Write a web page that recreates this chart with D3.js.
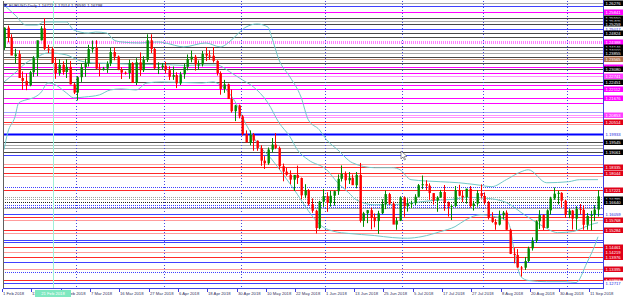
<!DOCTYPE html>
<html>
<head>
<meta charset="utf-8">
<script src="https://cdn.jsdelivr.net/npm/d3@7"></script>
<style>
  body { margin: 0; background: #fff; }
  text { font-family: "Liberation Sans", sans-serif; }
</style>
</head>
<body>
<div id="chart"></div>
<script>
// EURUSD daily candles: date, open, high, low, close (broker shows two short Sunday bars in March)
const candles = [
["2018-02-01",1.2413,1.2510,1.2400,1.2508],["2018-02-02",1.2508,1.2518,1.2437,1.2461],
["2018-02-05",1.2460,1.2476,1.2375,1.2373],["2018-02-06",1.2370,1.2406,1.2335,1.2379],
["2018-02-07",1.2380,1.2398,1.2266,1.2264],["2018-02-08",1.2264,1.2296,1.2206,1.2250],
["2018-02-09",1.2250,1.2286,1.2205,1.2228],["2018-02-12",1.2228,1.2299,1.2224,1.2292],
["2018-02-13",1.2292,1.2370,1.2270,1.2360],["2018-02-14",1.2360,1.2445,1.2273,1.2447],
["2018-02-15",1.2447,1.2516,1.2446,1.2505],["2018-02-16",1.2505,1.2555,1.2400,1.2406],
["2018-02-19",1.2406,1.2425,1.2385,1.2405],["2018-02-20",1.2405,1.2415,1.2336,1.2337],
["2018-02-21",1.2337,1.2364,1.2260,1.2287],["2018-02-22",1.2287,1.2355,1.2275,1.2328],
["2018-02-23",1.2328,1.2345,1.2280,1.2293],["2018-02-26",1.2293,1.2355,1.2264,1.2318],
["2018-02-27",1.2318,1.2347,1.2233,1.2233],["2018-02-28",1.2233,1.2240,1.2186,1.2193],
["2018-03-01",1.2193,1.2273,1.2155,1.2268],["2018-03-02",1.2268,1.2336,1.2245,1.2317],
["2018-03-05",1.2317,1.2358,1.2270,1.2337],["2018-03-06",1.2337,1.2425,1.2320,1.2404],
["2018-03-07",1.2404,1.2446,1.2387,1.2411],["2018-03-08",1.2411,1.2447,1.2307,1.2310],
["2018-03-09",1.2310,1.2335,1.2272,1.2307],["2018-03-11",1.2307,1.2318,1.2300,1.2310],
["2018-03-12",1.2310,1.2345,1.2289,1.2334],
["2018-03-13",1.2334,1.2412,1.2322,1.2390],["2018-03-14",1.2390,1.2413,1.2350,1.2368],
["2018-03-15",1.2368,1.2373,1.2302,1.2305],["2018-03-16",1.2305,1.2317,1.2259,1.2290],
["2018-03-18",1.2290,1.2296,1.2281,1.2288],
["2018-03-19",1.2288,1.2353,1.2260,1.2337],["2018-03-20",1.2337,1.2341,1.2240,1.2240],
["2018-03-21",1.2240,1.2360,1.2230,1.2340],["2018-03-22",1.2340,1.2388,1.2274,1.2302],
["2018-03-23",1.2302,1.2370,1.2293,1.2352],["2018-03-26",1.2352,1.2476,1.2342,1.2447],
["2018-03-27",1.2447,1.2476,1.2385,1.2405],["2018-03-28",1.2405,1.2410,1.2307,1.2311],
["2018-03-29",1.2311,1.2340,1.2283,1.2317],["2018-03-30",1.2317,1.2337,1.2306,1.2324],
["2018-04-02",1.2324,1.2343,1.2286,1.2302],["2018-04-03",1.2302,1.2321,1.2254,1.2270],
["2018-04-04",1.2270,1.2320,1.2255,1.2278],["2018-04-05",1.2278,1.2292,1.2215,1.2238],
["2018-04-06",1.2238,1.2294,1.2230,1.2282],["2018-04-09",1.2282,1.2334,1.2260,1.2318],
["2018-04-10",1.2318,1.2378,1.2301,1.2356],["2018-04-11",1.2356,1.2397,1.2340,1.2367],
["2018-04-12",1.2367,1.2376,1.2300,1.2330],["2018-04-13",1.2330,1.2349,1.2305,1.2330],
["2018-04-16",1.2330,1.2395,1.2320,1.2381],["2018-04-17",1.2381,1.2414,1.2346,1.2373],
["2018-04-18",1.2373,1.2398,1.2352,1.2372],["2018-04-19",1.2372,1.2414,1.2339,1.2347],
["2018-04-20",1.2347,1.2350,1.2276,1.2288],["2018-04-23",1.2288,1.2296,1.2183,1.2211],
["2018-04-24",1.2211,1.2255,1.2192,1.2233],["2018-04-25",1.2233,1.2237,1.2164,1.2162],
["2018-04-26",1.2162,1.2208,1.2096,1.2103],["2018-04-27",1.2103,1.2134,1.2055,1.2131],
["2018-04-30",1.2131,1.2135,1.2068,1.2078],
["2018-05-01",1.2078,1.2085,1.1985,1.1992],["2018-05-02",1.1992,1.2010,1.1954,1.1951],
["2018-05-03",1.1951,1.2010,1.1938,1.1989],["2018-05-04",1.1989,1.1997,1.1911,1.1960],
["2018-05-07",1.1960,1.1961,1.1911,1.1924],["2018-05-08",1.1924,1.1938,1.1838,1.1863],
["2018-05-09",1.1863,1.1885,1.1823,1.1850],["2018-05-10",1.1850,1.1927,1.1843,1.1917],
["2018-05-11",1.1917,1.1973,1.1904,1.1941],["2018-05-14",1.1941,1.1997,1.1919,1.1925],
["2018-05-15",1.1925,1.1932,1.1821,1.1836],["2018-05-16",1.1836,1.1849,1.1763,1.1810],
["2018-05-17",1.1810,1.1829,1.1790,1.1795],["2018-05-18",1.1795,1.1816,1.1749,1.1771],
["2018-05-21",1.1771,1.1793,1.1716,1.1794],["2018-05-22",1.1794,1.1839,1.1750,1.1779],
["2018-05-23",1.1779,1.1781,1.1676,1.1695],["2018-05-24",1.1695,1.1749,1.1681,1.1720],
["2018-05-25",1.1720,1.1725,1.1645,1.1652],["2018-05-28",1.1652,1.1680,1.1610,1.1620],
["2018-05-29",1.1620,1.1625,1.1510,1.1536],["2018-05-30",1.1536,1.1668,1.1530,1.1664],
["2018-05-31",1.1664,1.1725,1.1639,1.1691],
["2018-06-01",1.1691,1.1710,1.1615,1.1658],["2018-06-04",1.1658,1.1717,1.1640,1.1693],
["2018-06-05",1.1693,1.1718,1.1645,1.1715],["2018-06-06",1.1715,1.1796,1.1697,1.1775],
["2018-06-07",1.1775,1.1840,1.1762,1.1799],["2018-06-08",1.1799,1.1811,1.1727,1.1768],
["2018-06-11",1.1768,1.1808,1.1750,1.1780],["2018-06-12",1.1780,1.1796,1.1745,1.1744],
["2018-06-13",1.1744,1.1808,1.1729,1.1794],["2018-06-14",1.1794,1.1852,1.1563,1.1571],
["2018-06-15",1.1571,1.1615,1.1542,1.1608],["2018-06-18",1.1608,1.1624,1.1560,1.1623],
["2018-06-19",1.1623,1.1635,1.1530,1.1587],["2018-06-20",1.1587,1.1607,1.1540,1.1570],
["2018-06-21",1.1570,1.1620,1.1508,1.1608],["2018-06-22",1.1608,1.1676,1.1604,1.1653],
["2018-06-25",1.1653,1.1718,1.1628,1.1701],["2018-06-26",1.1701,1.1707,1.1649,1.1655],
["2018-06-27",1.1655,1.1665,1.1562,1.1553],["2018-06-28",1.1553,1.1588,1.1528,1.1572],
["2018-06-29",1.1572,1.1690,1.1570,1.1684],
["2018-07-02",1.1684,1.1690,1.1591,1.1642],["2018-07-03",1.1642,1.1680,1.1616,1.1656],
["2018-07-04",1.1656,1.1669,1.1633,1.1657],["2018-07-05",1.1657,1.1700,1.1648,1.1688],
["2018-07-06",1.1688,1.1750,1.1685,1.1744],["2018-07-09",1.1744,1.1791,1.1725,1.1749],
["2018-07-10",1.1749,1.1768,1.1720,1.1742],["2018-07-11",1.1742,1.1753,1.1673,1.1706],
["2018-07-12",1.1706,1.1705,1.1650,1.1670],["2018-07-13",1.1670,1.1691,1.1615,1.1685],
["2018-07-16",1.1685,1.1721,1.1683,1.1711],["2018-07-17",1.1711,1.1745,1.1620,1.1660],
["2018-07-18",1.1660,1.1665,1.1592,1.1641],["2018-07-19",1.1641,1.1651,1.1575,1.1643],
["2018-07-20",1.1643,1.1740,1.1639,1.1720],["2018-07-23",1.1720,1.1746,1.1690,1.1693],
["2018-07-24",1.1693,1.1717,1.1662,1.1686],["2018-07-25",1.1686,1.1727,1.1655,1.1727],
["2018-07-26",1.1727,1.1740,1.1635,1.1643],["2018-07-27",1.1643,1.1668,1.1621,1.1655],
["2018-07-30",1.1655,1.1720,1.1640,1.1706],["2018-07-31",1.1706,1.1748,1.1680,1.1692],
["2018-08-01",1.1692,1.1709,1.1650,1.1659],["2018-08-02",1.1659,1.1667,1.1578,1.1585],
["2018-08-03",1.1585,1.1613,1.1562,1.1566],["2018-08-06",1.1566,1.1580,1.1528,1.1553],
["2018-08-07",1.1553,1.1621,1.1549,1.1598],["2018-08-08",1.1598,1.1619,1.1578,1.1611],
["2018-08-09",1.1611,1.1622,1.1528,1.1528],["2018-08-10",1.1528,1.1533,1.1410,1.1411],
["2018-08-13",1.1411,1.1439,1.1365,1.1406],["2018-08-14",1.1406,1.1434,1.1344,1.1345],
["2018-08-15",1.1345,1.1352,1.1301,1.1344],["2018-08-16",1.1344,1.1396,1.1333,1.1376],
["2018-08-17",1.1376,1.1446,1.1371,1.1438],["2018-08-20",1.1438,1.1491,1.1427,1.1474],
["2018-08-21",1.1474,1.1574,1.1464,1.1569],["2018-08-22",1.1569,1.1623,1.1532,1.1599],
["2018-08-23",1.1599,1.1603,1.1527,1.1537],["2018-08-24",1.1537,1.1627,1.1535,1.1622],
["2018-08-27",1.1622,1.1688,1.1601,1.1680],["2018-08-28",1.1680,1.1733,1.1673,1.1703],
["2018-08-29",1.1703,1.1717,1.1651,1.1707],["2018-08-30",1.1707,1.1710,1.1636,1.1669],
["2018-08-31",1.1669,1.1673,1.1586,1.1600],
["2018-09-03",1.1600,1.1631,1.1584,1.1621],["2018-09-04",1.1621,1.1624,1.1529,1.1582],
["2018-09-05",1.1582,1.1642,1.1528,1.1629],["2018-09-06",1.1629,1.1653,1.1602,1.1625],
["2018-09-07",1.1625,1.1646,1.1528,1.1552],["2018-09-10",1.1552,1.1609,1.1528,1.1595],
["2018-09-11",1.1595,1.1620,1.1526,1.1600],["2018-09-12",1.1600,1.1647,1.1570,1.1626],
["2018-09-13",1.1626,1.1720,1.1592,1.1690]
];

// Bollinger bands: date, value
const bbUpper = [
["2018-02-01",1.2618],["2018-02-06",1.2570],["2018-02-09",1.2521],["2018-02-14",1.2521],
["2018-02-16",1.2536],["2018-02-26",1.2536],["2018-02-28",1.2497],["2018-03-06",1.2482],
["2018-03-08",1.2487],["2018-03-12",1.2482],["2018-03-14",1.2448],["2018-03-16",1.2439],
["2018-03-22",1.2434],["2018-03-29",1.2439],["2018-04-02",1.2434],["2018-04-09",1.2415],
["2018-04-17",1.2434],["2018-04-23",1.2415],["2018-04-26",1.2448],["2018-04-30",1.2482],
["2018-05-02",1.2511],["2018-05-07",1.2526],["2018-05-10",1.2511],["2018-05-11",1.2463],
["2018-05-15",1.2352],["2018-05-18",1.2269],["2018-05-23",1.2172],["2018-05-25",1.2061],
["2018-05-30",1.2013],["2018-06-01",1.1964],["2018-06-06",1.1916],["2018-06-12",1.1853],
["2018-06-20",1.1829],["2018-06-27",1.1829],["2018-06-29",1.1819],["2018-07-04",1.1771],
["2018-07-16",1.1761],["2018-07-23",1.1756],["2018-07-30",1.1746],["2018-08-03",1.1737],
["2018-08-09",1.1771],["2018-08-15",1.1809],["2018-08-17",1.1819],["2018-08-24",1.1756],
["2018-09-03",1.1761],["2018-09-06",1.1771],["2018-09-13",1.1771]
];
const bbMiddle = [
["2018-02-01",1.2245],["2018-02-06",1.2289],["2018-02-09",1.2337],["2018-02-14",1.2366],
["2018-02-19",1.2386],["2018-02-26",1.2376],["2018-03-01",1.2352],["2018-03-07",1.2337],
["2018-03-13",1.2335],["2018-03-22",1.2330],["2018-03-30",1.2330],["2018-04-09",1.2325],
["2018-04-16",1.2327],["2018-04-20",1.2327],["2018-04-26",1.2289],["2018-05-01",1.2255],
["2018-05-04",1.2221],["2018-05-10",1.2143],["2018-05-15",1.2047],["2018-05-18",1.1979],
["2018-05-22",1.1916],["2018-05-25",1.1867],["2018-06-01",1.1819],["2018-06-06",1.1756],
["2018-06-11",1.1708],["2018-06-13",1.1674],["2018-06-20",1.1649],["2018-06-27",1.1650],
["2018-07-05",1.1660],["2018-07-12",1.1670],["2018-07-19",1.1675],["2018-07-26",1.1685],
["2018-08-02",1.1680],["2018-08-09",1.1660],["2018-08-16",1.1600],["2018-08-23",1.1545],
["2018-08-29",1.1514],["2018-09-04",1.1519],["2018-09-07",1.1538],["2018-09-11",1.1553],
["2018-09-13",1.1562]
];
const bbLower = [
["2018-02-01",1.1916],["2018-02-02",1.1998],["2018-02-06",1.2076],["2018-02-07",1.2143],
["2018-02-09",1.2158],["2018-02-13",1.2168],["2018-02-15",1.2192],["2018-02-19",1.2240],
["2018-02-21",1.2231],["2018-02-26",1.2192],["2018-02-28",1.2168],["2018-03-05",1.2172],
["2018-03-09",1.2182],["2018-03-13",1.2206],["2018-03-16",1.2211],["2018-03-21",1.2206],
["2018-03-26",1.2240],["2018-03-30",1.2245],["2018-04-16",1.2240],["2018-04-19",1.2245],
["2018-04-23",1.2230],["2018-04-27",1.2150],["2018-05-02",1.2040],["2018-05-07",1.1950],
["2018-05-11",1.1870],["2018-05-16",1.1800],["2018-05-22",1.1700],["2018-05-25",1.1620],
["2018-05-30",1.1555],["2018-06-05",1.1520],["2018-06-11",1.1510],["2018-06-20",1.1500],
["2018-06-27",1.1490],["2018-07-03",1.1487],["2018-07-09",1.1495],["2018-07-16",1.1519],
["2018-07-20",1.1543],["2018-07-25",1.1577],["2018-07-31",1.1601],["2018-08-06",1.1591],
["2018-08-09",1.1575],["2018-08-10",1.1540],["2018-08-13",1.1440],["2018-08-14",1.1350],
["2018-08-15",1.1300],["2018-08-17",1.1282],["2018-08-24",1.1276],["2018-08-31",1.1276],
["2018-09-05",1.1272],["2018-09-10",1.1369],["2018-09-12",1.1446],["2018-09-13",1.1494]
];

// horizontal price levels: price, kind of level, shown on the price scale
const levels = [
[1.26276,"minor",1],[1.26131,"daily",0],[1.25841,"weekly",1],[1.25550,"major",1],
[1.25405,"minor",1],[1.25259,"major",1],[1.25017,"daily",1],[1.24824,"major",1],
[1.24630,"major",0],[1.24388,"monthly",1],[1.24146,"major",1],[1.24000,"minor",1],
[1.23855,"minor",1],[1.23661,"major",0],[1.23565,"pivot",1],[1.23371,"major",0],
[1.23177,"weekly",1],[1.23080,"major",1],[1.22887,"weekly",0],[1.22741,"weeklyZone",1],
[1.22451,"major",1],[1.22305,"weekly",0],[1.22112,"weekly",1],[1.21676,"weekly",1],
[1.21434,"weekly",0],[1.20998,"dailyLight",0],[1.20853,"weeklyZone",1],[1.20756,"weeklyZone",0],
[1.20514,"res",1],[1.20417,"resZone",0],[1.19933,"key",1],[1.19545,"major",1],
[1.19400,"minor",0],[1.19255,"minor",0],[1.19061,"major",1],[1.18916,"daily",0],
[1.18480,"resZone",0],[1.18335,"res",1],[1.18044,"res",1],[1.17899,"resZone",0],
[1.17366,"dailyDots",0],[1.17221,"res",1],[1.16882,"range",0],[1.16785,"range",1],
[1.16640,"rangeMid",1],[1.16494,"dailyDots",0],[1.16397,"dailyDots",0],[1.16349,"minor",0],
[1.16059,"daily",1],[1.15913,"res",0],[1.15768,"resZone",1],[1.15284,"res",1],
[1.15139,"resZone",0],[1.14799,"daily",0],[1.14703,"daily",0],[1.14461,"res",1],
[1.14219,"resZone",1],[1.13976,"res",1],[1.13734,"daily",0],[1.13395,"resZone",1],
[1.13250,"dailyDots",0],[1.12863,"res",1],[1.12717,"daily",1]
];

const dateTicks = [
["2018-02-01","1 Feb 2018"],["2018-02-13","13 Feb 2018"],["2018-02-23","23 Feb 2018"],
["2018-03-07","7 Mar 2018"],["2018-03-16","16 Mar 2018"],["2018-03-27","27 Mar 2018"],
["2018-04-06","6 Apr 2018"],["2018-04-18","18 Apr 2018"],["2018-04-30","30 Apr 2018"],
["2018-05-10","10 May 2018"],["2018-05-22","22 May 2018"],["2018-06-01","1 Jun 2018"],
["2018-06-13","13 Jun 2018"],["2018-06-25","25 Jun 2018"],["2018-07-05","5 Jul 2018"],
["2018-07-17","17 Jul 2018"],["2018-07-27","27 Jul 2018"],["2018-08-08","8 Aug 2018"],
["2018-08-20","20 Aug 2018"],["2018-08-30","30 Aug 2018"],["2018-09-11","11 Sep 2018"]
];
const monthStarts = ["2018-03-01","2018-04-02","2018-05-01","2018-06-01","2018-07-02","2018-08-01","2018-09-03"];
const cursorDate = "2018-02-21";
const cursorLabel = "21 Feb 2018";
const title = "EURUSD,Daily  1.16721 1.17014 1.16591 1.16798";

// look of each kind of level
const levelStyle = {
    major:      { stroke: "#484848", box: "#000", text: "#fff" },
    minor:      { stroke: "#a8a8a8", box: "#000", text: "#fff" },
    weekly:     { stroke: "#ff00ff", box: "#ff00ff", text: "#fff" },
    weeklyZone: { stroke: "#ff90ff", box: "#ff40ff", text: "#fff" },
    monthly:    { stroke: "#ff80ff", box: "#ff00ff", text: "#fff", width: 3, dash: "1,1" },
    pivot:      { stroke: "#c09078", box: "#b0704c", text: "#fff" },
    daily:      { stroke: "#4040ff", box: "#fff", text: "#2020e0" },
    dailyLight: { stroke: "#a0a0ff", box: "#fff", text: "#2020e0" },
    dailyDots:  { stroke: "#4040ff", box: "#fff", text: "#2020e0", dash: "1,1" },
    key:        { stroke: "#0000ff", box: "#fff", text: "#2020e0", width: 2 },
    res:        { stroke: "#ff2828", box: "#e00018", text: "#fff" },
    resZone:    { stroke: "#ff9c9c", box: "#e00018", text: "#fff" },
    range:      { stroke: "#a0a0a0", box: "#000", text: "#fff", dash: "1,1" },
    rangeMid:   { stroke: "#202020", box: "#000", text: "#fff", dash: "1,1" }
};

const width = 625, height = 300;
const plot = { left: 3, right: 603, top: 1, bottom: 288 };

const dates = candles.map(d => d[0]);
const idx = d => dates.indexOf(d);

const x = d3.scaleLinear()
    .domain([0, candles.length - 1])
    .range([plot.left + 1, plot.right - 5]);
const y = d3.scaleLinear()
    .domain([1.12455, 1.26375])
    .range([plot.bottom, plot.top]);

const svg = d3.select("#chart").append("svg")
    .attr("width", width)
    .attr("height", height)
    .style("display", "block");

svg.append("rect").attr("width", width).attr("height", height).attr("fill", "#fff");

const chart = svg.append("g");
chart.append("clipPath").attr("id", "clip")
    .append("rect")
    .attr("x", plot.left).attr("y", plot.top)
    .attr("width", plot.right - plot.left).attr("height", plot.bottom - plot.top);
const inner = chart.append("g").attr("clip-path", "url(#clip)");

// horizontal levels
inner.selectAll(".level")
    .data(levels)
    .enter()
    .append("line")
    .attr("class", "level")
    .attr("x1", plot.left).attr("x2", plot.right)
    .attr("y1", d => Math.round(y(d[0])) + 0.5)
    .attr("y2", d => Math.round(y(d[0])) + 0.5)
    .attr("stroke", d => levelStyle[d[1]].stroke)
    .attr("stroke-width", d => levelStyle[d[1]].width || 1)
    .attr("stroke-dasharray", d => levelStyle[d[1]].dash || null);

// month separators
inner.selectAll(".sep")
    .data(monthStarts)
    .enter()
    .append("line")
    .attr("x1", d => Math.round(x(idx(d) - 0.5)) + 0.5)
    .attr("x2", d => Math.round(x(idx(d) - 0.5)) + 0.5)
    .attr("y1", plot.top).attr("y2", plot.bottom)
    .attr("stroke", "#4848e0")
    .attr("stroke-dasharray", "1,2");

// crosshair vertical
const cx = Math.round(x(idx(cursorDate) - 0.5));
inner.append("line")
    .attr("x1", cx + 0.5).attr("x2", cx + 0.5)
    .attr("y1", plot.top).attr("y2", plot.bottom)
    .attr("stroke", "#9ff0d8");

// bollinger bands
const bbLine = d3.line()
    .x(d => x(idx(d[0])))
    .y(d => y(d[1]))
    .curve(d3.curveMonotoneX);
[bbUpper, bbMiddle, bbLower].forEach(band => {
    inner.append("path")
        .attr("d", bbLine(band))
        .attr("fill", "none")
        .attr("stroke", "#70c8c8")
        .attr("stroke-width", 1);
});

// candles
const cg = inner.selectAll(".candle")
    .data(candles)
    .enter()
    .append("g")
    .attr("class", "candle");
cg.append("line")
    .attr("x1", (d, i) => Math.round(x(i)) + 0.5)
    .attr("x2", (d, i) => Math.round(x(i)) + 0.5)
    .attr("y1", d => y(d[2]))
    .attr("y2", d => y(d[3]))
    .attr("stroke", d => d[4] >= d[1] ? "#008a00" : "#ff0000");
cg.append("rect")
    .attr("x", (d, i) => Math.round(x(i)) - 0.5)
    .attr("width", 2.4)
    .attr("y", d => y(Math.max(d[1], d[4])))
    .attr("height", d => Math.max(1, Math.abs(y(d[1]) - y(d[4]))))
    .attr("fill", d => d[4] >= d[1] ? "#008a00" : "#ff0000");

// mouse pointer left on the chart
svg.append("path")
    .attr("d", "M401,151 L401,159 L403,157 L404.5,160 L405.5,159.5 L404.2,156.6 L407,156.4 Z")
    .attr("fill", "#fff")
    .attr("stroke", "#555")
    .attr("stroke-width", 0.6);

// frame
chart.append("line").attr("x1", plot.left + 0.5).attr("x2", plot.left + 0.5)
    .attr("y1", plot.top).attr("y2", plot.bottom).attr("stroke", "#606060");
chart.append("line").attr("x1", plot.right + 0.5).attr("x2", plot.right + 0.5)
    .attr("y1", 0).attr("y2", plot.bottom + 1).attr("stroke", "#4040e0");
chart.append("line").attr("x1", plot.left).attr("x2", plot.right)
    .attr("y1", plot.bottom + 0.5).attr("y2", plot.bottom + 0.5).attr("stroke", "#4040e0");

// price labels on the right
const labels = svg.selectAll(".plabel")
    .data(levels.filter(d => d[2]))
    .enter()
    .append("g")
    .attr("transform", d => `translate(${plot.right + 1},${Math.round(y(d[0]))})`);
labels.append("rect")
    .attr("x", 0).attr("y", -2.5)
    .attr("width", 19).attr("height", 5.5)
    .attr("fill", d => levelStyle[d[1]].box);
labels.append("text")
    .attr("x", 1.5).attr("y", 1.6)
    .attr("font-size", 4.2)
    .attr("fill", d => levelStyle[d[1]].text)
    .text(d => d[0].toFixed(5));

// date axis
const ticks = svg.selectAll(".dtick")
    .data(dateTicks)
    .enter()
    .append("g")
    .attr("transform", d => `translate(${Math.round(x(idx(d[0])) - 2)},${plot.bottom})`);
ticks.append("line").attr("x1", 0.5).attr("x2", 0.5).attr("y1", 1).attr("y2", 4).attr("stroke", "#4040e0");
ticks.append("text")
    .attr("x", 1).attr("y", 7.2)
    .attr("font-size", 4.2)
    .attr("fill", "#303060")
    .text(d => d[1]);

// crosshair date label
svg.append("rect")
    .attr("x", cx - 18).attr("y", plot.bottom + 2)
    .attr("width", 36).attr("height", 7)
    .attr("fill", "#7fe8c0");
svg.append("text")
    .attr("x", cx).attr("y", plot.bottom + 7.3)
    .attr("text-anchor", "middle")
    .attr("font-size", 4.2)
    .attr("fill", "#fff")
    .text(cursorLabel);

// title
svg.append("path")
    .attr("d", "M3.5,4 L7.5,4 L5.5,7 Z")
    .attr("fill", "#2a2a8a");
svg.append("text")
    .attr("x", 9).attr("y", 7.2)
    .attr("font-size", 4.2)
    .attr("fill", "#202040")
    .text(title);
</script>
</body>
</html>
